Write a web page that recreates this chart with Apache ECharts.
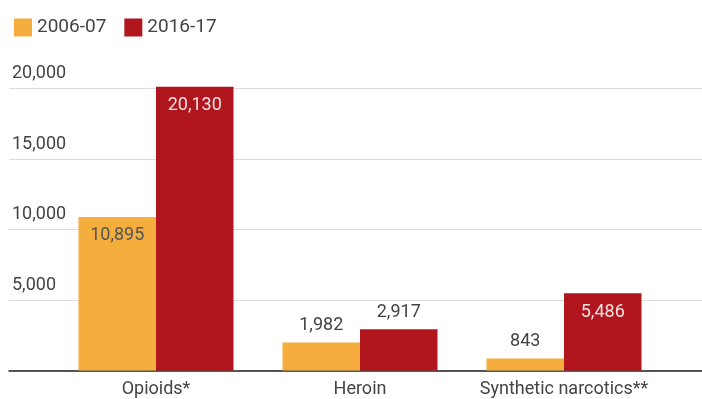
<!DOCTYPE html>
<html>
<head>
<meta charset="utf-8">
<script src="https://cdn.jsdelivr.net/npm/echarts@6/dist/echarts.min.js"></script>
<style>
  html, body { margin: 0; padding: 0; background: #fff; }
  #chart { width: 702px; height: 399px; }
</style>
</head>
<body>
<div id="chart"></div>
<script>
// Drug categories and counts for the two periods
const categories = ['Opioids*', 'Heroin', 'Synthetic narcotics**'];
const period1Name = '2006-07';
const period2Name = '2016-17';
const period1Values = [10895, 1982, 843];
const period2Values = [20130, 2917, 5486];

// Value axis range and tick step
const yMin = 0;
const yMax = 20000;
const yStep = 5000;

const FONT = 'Roboto';
const ORANGE = '#F5AE3D';
const RED = '#B1161F';

// Tall bars carry their value inside the top, short ones above it
function withLabels(values, insideColor) {
  return values.map(v => {
    const inside = v > 4000;
    return {
      value: v,
      label: {
        position: inside ? 'insideTop' : 'top',
        distance: inside ? 10 : 8,
        color: inside ? insideColor : '#444'
      }
    };
  });
}

const fmt = v => v.toLocaleString('en-US');

const chart = echarts.init(document.getElementById('chart'), null, { renderer: 'canvas' });

chart.setOption({
  animation: false,
  textStyle: { fontFamily: FONT },
  legend: {
    left: 9,
    top: 13,
    itemWidth: 18,
    itemHeight: 18,
    itemGap: 18,
    icon: 'rect',
    textStyle: { fontFamily: FONT, fontSize: 19, color: '#444' },
    data: [period1Name, period2Name]
  },
  grid: [
    // full-width grid: gridlines, tick labels and baseline
    { left: 9, right: 0, top: 88.5, bottom: 28.5 },
    // bars
    { left: 54, right: 36, top: 88.5, bottom: 28.5 }
  ],
  xAxis: [
    {
      gridIndex: 0,
      type: 'value',
      min: 0,
      max: 1,
      axisLabel: { show: false },
      axisTick: { show: false },
      splitLine: { show: false },
      axisLine: { show: true, lineStyle: { color: '#222', width: 1.5 } }
    },
    {
      gridIndex: 1,
      type: 'category',
      data: categories,
      axisLine: { show: false },
      axisTick: { show: false },
      axisLabel: { interval: 0, margin: 10, fontFamily: FONT, fontSize: 18, color: '#444' }
    }
  ],
  yAxis: [
    {
      gridIndex: 0,
      type: 'value',
      min: yMin,
      max: yMax,
      interval: yStep,
      axisLine: { show: false },
      axisTick: { show: false },
      splitLine: { lineStyle: { color: '#dcdcdc', width: 1 } },
      axisLabel: {
        inside: true,
        margin: 3,
        align: 'left',
        verticalAlign: 'bottom',
        padding: [0, 0, 6, 0],
        fontFamily: FONT,
        fontSize: 18,
        color: '#444',
        formatter: v => (v === 0 ? '' : fmt(v))
      }
    },
    {
      gridIndex: 1,
      type: 'value',
      min: yMin,
      max: yMax,
      interval: yStep,
      show: false
    }
  ],
  series: [
    {
      name: period1Name,
      type: 'bar',
      xAxisIndex: 1,
      yAxisIndex: 1,
      clip: false,
      barWidth: 77.5,
      barGap: '0%',
      itemStyle: { color: ORANGE },
      label: {
        show: true,
        fontFamily: FONT,
        fontSize: 18,
        formatter: p => fmt(p.value)
      },
      data: withLabels(period1Values, '#555')
    },
    {
      name: period2Name,
      type: 'bar',
      xAxisIndex: 1,
      yAxisIndex: 1,
      clip: false,
      barWidth: 77.5,
      barGap: '0%',
      itemStyle: { color: RED },
      label: {
        show: true,
        fontFamily: FONT,
        fontSize: 18,
        formatter: p => fmt(p.value)
      },
      data: withLabels(period2Values, '#f3e3e3')
    }
  ]
});
</script>
</body>
</html>
